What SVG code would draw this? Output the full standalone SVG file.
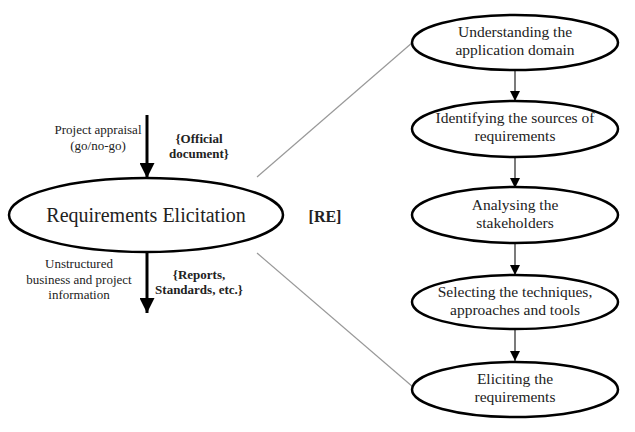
<svg xmlns="http://www.w3.org/2000/svg" width="635" height="432" viewBox="0 0 635 432" font-family="'Liberation Serif', 'DejaVu Serif', serif">
<style>
text{font-family:'Liberation Serif','Times New Roman',serif;fill:#222;text-anchor:middle}
.n{font-size:15.5px}
.s{font-size:13px}
.b{font-size:13px;font-weight:bold}
.el{fill:#fff;stroke:#000;stroke-width:2.5}
.thin{stroke:#333;stroke-width:1.3;fill:none}
.thick{stroke:#000;stroke-width:3;fill:none}
.gray{stroke:#999;stroke-width:1.2;fill:none}
</style>
<defs>
<marker id="ah" viewBox="0 0 10 10" refX="10" refY="5" markerWidth="10" markerHeight="13" markerUnits="userSpaceOnUse" orient="auto"><path d="M0,0L10,5L0,10z" fill="#000"/></marker>
<marker id="ahb" viewBox="0 0 10 10" refX="10" refY="5" markerWidth="16" markerHeight="15" markerUnits="userSpaceOnUse" orient="auto"><path d="M0,0L10,5L0,10z" fill="#000"/></marker>
</defs>
<g id="connectors">
<line class="thick" x1="147" y1="115" x2="147" y2="178" marker-end="url(#ahb)"/>
<line class="thick" x1="147" y1="252" x2="147" y2="313" marker-end="url(#ahb)"/>
<line class="gray" x1="257" y1="177" x2="413" y2="42"/>
<line class="gray" x1="257" y1="253" x2="413" y2="387"/>
<line class="thin" x1="515" y1="70" x2="515" y2="101" marker-end="url(#ah)"/>
<line class="thin" x1="515" y1="157" x2="515" y2="188" marker-end="url(#ah)"/>
<line class="thin" x1="515" y1="243" x2="515" y2="275" marker-end="url(#ah)"/>
<line class="thin" x1="515" y1="329" x2="515" y2="361" marker-end="url(#ah)"/>
</g>
<g id="main">
<ellipse class="el" cx="146" cy="215" rx="137" ry="37"/>
<text x="146" y="222" style="font-size:20px">Requirements Elicitation</text>
</g>
<g id="input-label">
<text class="s" x="98" y="134">Project appraisal</text>
<text class="s" x="98" y="150">(go/no-go)</text>
</g>
<g id="input-doc">
<text class="b" x="199" y="143">{Official</text>
<text class="b" x="199" y="158">document}</text>
</g>
<g id="output-label">
<text class="s" x="79" y="268">Unstructured</text>
<text class="s" x="79" y="284">business and project</text>
<text class="s" x="79" y="299">information</text>
</g>
<g id="output-doc">
<text class="b" x="199" y="279">{Reports,</text>
<text class="b" x="199" y="294">Standards, etc.}</text>
</g>
<g id="re">
<text x="325" y="222" style="font-size:16px;font-weight:bold">[RE]</text>
</g>
<g id="step1">
<ellipse class="el" cx="515" cy="42.5" rx="103" ry="27.5"/>
<text class="n" x="515" y="37">Understanding the</text>
<text class="n" x="515" y="55">application domain</text>
</g>
<g id="step2">
<ellipse class="el" cx="515" cy="129" rx="103" ry="28"/>
<text class="n" x="515" y="123">Identifying the sources of</text>
<text class="n" x="515" y="141">requirements</text>
</g>
<g id="step3">
<ellipse class="el" cx="515" cy="215" rx="103" ry="28"/>
<text class="n" x="515" y="210">Analysing the</text>
<text class="n" x="515" y="228">stakeholders</text>
</g>
<g id="step4">
<ellipse class="el" cx="515" cy="302" rx="103" ry="27"/>
<text class="n" x="515" y="297">Selecting the techniques,</text>
<text class="n" x="515" y="315">approaches and tools</text>
</g>
<g id="step5">
<ellipse class="el" cx="515" cy="389.5" rx="103" ry="27.5"/>
<text class="n" x="515" y="384">Eliciting the</text>
<text class="n" x="515" y="402">requirements</text>
</g>
</svg>
